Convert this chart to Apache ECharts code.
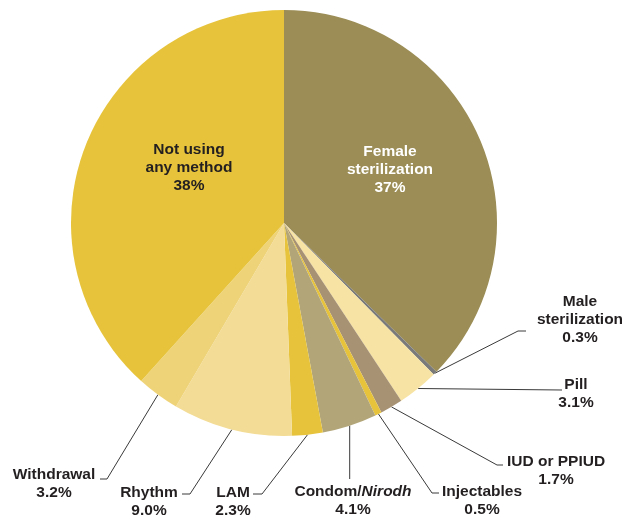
<!DOCTYPE html>
<html><head><meta charset="utf-8">
<script src="https://cdn.jsdelivr.net/npm/echarts@6/dist/echarts.min.js"></script>
<style>html,body{margin:0;padding:0;background:#fff}#c{width:625px;height:519px}</style>
</head><body><div id="c"></div>
<script>
// ---- data ----
const categories = ['Female\nsterilization', 'Male\nsterilization', 'Pill', 'IUD or PPIUD', 'Injectables',
  'Condom/Nirodh', 'LAM', 'Rhythm', 'Withdrawal', 'Not using\nany method'];
const values = [37, 0.3, 3.1, 1.7, 0.5, 4.1, 2.3, 9.0, 3.2, 38];

// ---- styles ----
const colors = ['#9B8D55', '#7A7A7A', '#F7E3A3', '#A89274', '#E6C33B', '#B2A679', '#E6C33B', '#F3DC95', '#EFD379', '#E6C33B'];
const FONT = "'Liberation Sans', Arial, Helvetica, sans-serif";
const TEXT = '#231F20';
// label placement (presentation only): block centre x / middle y, and guide line elbow / end
const labelPlacement = [
  { x: 390, y: 170, inside: true, color: '#ffffff' },
  { x: 580, y: 320, elbow: [518, 331], end: [526, 331] },
  { x: 576, y: 394, end: [562, 390] },
  { x: 556, y: 471, elbow: [497, 465], end: [503, 465] },
  { x: 482, y: 501, elbow: [432, 493], end: [439, 493] },
  { x: 353, y: 501, endY: 479 },
  { x: 233, y: 502, elbow: [262, 494], end: [253, 494] },
  { x: 149, y: 502, elbow: [190, 494], end: [182, 494] },
  { x: 54, y: 484, elbow: [107, 479], end: [100, 479] },
  { x: 189, y: 168, inside: true }
];

const chart = echarts.init(document.getElementById('c'), null, { renderer: 'canvas' });

const data = categories.map((name, i) => {
  const pl = labelPlacement[i];
  const item = { name: name, value: values[i], itemStyle: { color: colors[i] } };
  if (pl.inside) {
    item.label = { position: 'inside', color: pl.color || TEXT };
    item.labelLine = { show: false };
  }
  return item;
});

const tok = { fontFamily: FONT, fontWeight: 'bold', fontSize: 15.5, lineHeight: 18, color: TEXT };

chart.setOption({
  animation: false,
  backgroundColor: '#ffffff',
  series: [{
    type: 'pie',
    center: [284, 223],
    radius: [0, 213],
    startAngle: 90,
    clockwise: true,
    avoidLabelOverlap: false,
    emphasis: { disabled: true },
    data: data,
    label: {
      show: true,
      position: 'outside',
      fontFamily: FONT,
      fontWeight: 'bold',
      fontSize: 15.5,
      lineHeight: 18,
      color: TEXT,
      align: 'center',
      formatter: function (p) {
        const v = p.value;
        const pct = (v < 10 ? v.toFixed(1) : String(Math.round(v))) + '%';
        if (p.name.indexOf('/') >= 0) {
          const parts = p.name.split('/');
          return '{n|' + parts[0] + '/}{it|' + parts[1] + '}\n{n|' + pct + '}';
        }
        return p.name + '\n' + pct;
      },
      rich: {
        n: tok,
        it: Object.assign({}, tok, { fontStyle: 'italic' })
      }
    },
    labelLine: {
      show: true,
      length: 20,
      length2: 10,
      lineStyle: { color: '#3A3A3A', width: 1 }
    },
    labelLayout: function (p) {
      const pl = labelPlacement[p.dataIndex];
      const res = { x: pl.x, y: pl.y, align: 'center', verticalAlign: 'middle' };
      if (!pl.inside && p.labelLinePoints) {
        const s = p.labelLinePoints[0];
        const pts = [s];
        if (pl.elbow) pts.push(pl.elbow);
        if (pl.end) pts.push(pl.end); else pts.push([s[0], pl.endY]);
        res.labelLinePoints = pts;
      }
      return res;
    }
  }]
});
</script>
</body></html>
